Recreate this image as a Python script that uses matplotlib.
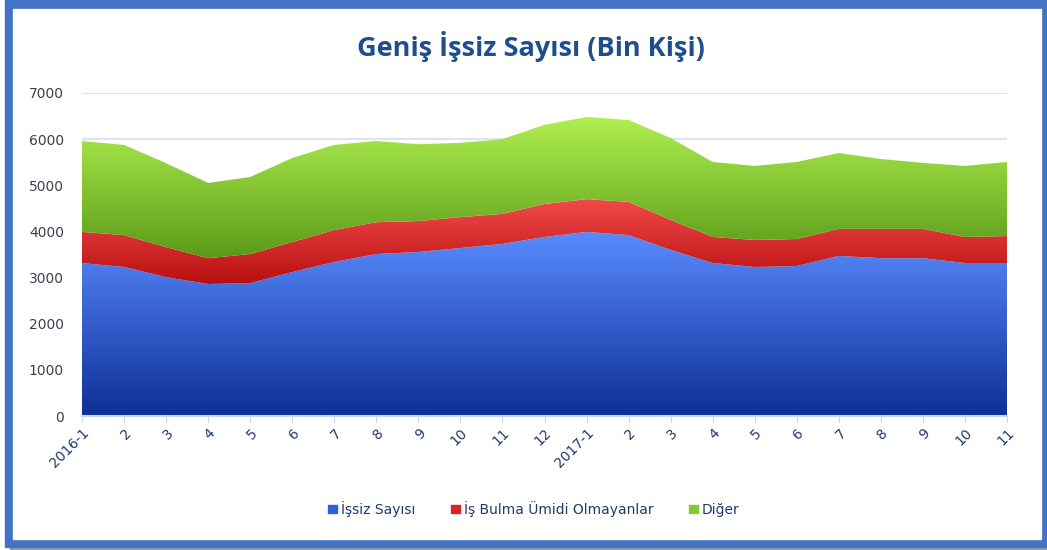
import matplotlib
matplotlib.use('Agg')
import matplotlib.pyplot as plt
import numpy as np
from matplotlib.patches import Rectangle, Patch
from matplotlib.colors import LinearSegmentedColormap

# tick labels (months)
months = ['2016-1', '2', '3', '4', '5', '6', '7', '8', '9', '10', '11', '12',
          '2017-1', '2', '3', '4', '5', '6', '7', '8', '9', '10', '11']

# thousand persons
issiz = [3315, 3230, 3010, 2860, 2880, 3120, 3340, 3510, 3555, 3640, 3730, 3880,
         3990, 3920, 3600, 3315, 3230, 3250, 3470, 3420, 3420, 3315, 3315]
umitsiz = [675, 690, 650, 560, 630, 650, 690, 690, 670, 670, 650, 715,
           710, 720, 650, 565, 585, 585, 585, 635, 635, 565, 585]
diger = [1970, 1955, 1820, 1630, 1670, 1820, 1845, 1760, 1665, 1610, 1620, 1715,
         1780, 1775, 1775, 1625, 1605, 1670, 1645, 1515, 1430, 1540, 1605]

names = ['İşsiz Sayısı', 'İş Bulma Ümidi Olmayanlar', 'Diğer']

fig = plt.figure(figsize=(10.47, 5.5), dpi=100)

# blue frame around the chart, with a thin shadow
fig.add_artist(Rectangle((10 / 1047, 0), 1, 4 / 550, transform=fig.transFigure,
                         color='#9a9a9a', zorder=-3))
fig.add_artist(Rectangle((5 / 1047, 3 / 550), 1, 1, transform=fig.transFigure,
                         color='#4472C4', zorder=-2))
fig.add_artist(Rectangle((13 / 1047, 11 / 550), 1028 / 1047, 530 / 550,
                         transform=fig.transFigure, color='white', zorder=-1))

ax = fig.add_axes([82 / 1047, 1 - 416 / 550, 925 / 1047, 323 / 550])
x = np.arange(len(months))
s1 = np.array(issiz)
s2 = s1 + np.array(umitsiz)
s3 = s2 + np.array(diger)

ymax = 7000
grads = [('#0e2f96', '#5a8cff', 0, s1),
         ('#b81010', '#f24a4a', s1, s2),
         ('#5a9a18', '#b0f050', s2, s3)]
for c_bot, c_top, lo, hi in grads:
    poly = ax.fill_between(x, lo, hi, color='none', lw=0)
    cmap = LinearSegmentedColormap.from_list('g', [c_bot, c_top])
    top = np.max(hi)
    bot = 0 if np.isscalar(lo) else np.min(lo)
    grad = np.linspace(0, 1, 256).reshape(-1, 1)
    im = ax.imshow(grad, cmap=cmap, aspect='auto', origin='lower',
                   extent=[0, len(x) - 1, bot, top], zorder=2)
    path = poly.get_paths()[0]
    im.set_clip_path(path, transform=ax.transData)

ax.set_xlim(0, len(x) - 1)
ax.set_ylim(0, ymax)
ax.set_yticks(range(0, 7001, 1000))
ax.grid(axis='y', color='#d5dff0', lw=1.2, zorder=0)
ax.set_axisbelow(True)
for s in ['top', 'right', 'left']:
    ax.spines[s].set_visible(False)
ax.spines['bottom'].set_color('#c8d4ea')
ax.spines['bottom'].set_linewidth(1.5)
ax.spines['bottom'].set_zorder(5)

ax.set_xticks(x)
ax.set_xticklabels(months, rotation=45, ha='right', rotation_mode='anchor',
                   fontsize=10, color='#1f3a70')
ax.tick_params(axis='x', length=4, color='#c8d4ea', pad=3)
ax.tick_params(axis='y', length=0, pad=13, labelsize=10, labelcolor='#3a4050')

fig.text(0.507, 0.915, 'Geniş İşsiz Sayısı (Bin Kişi)', ha='center', va='center',
         fontsize=19.5, fontweight='bold', color='#1f4e8c', family='Open Sans')

handles = [Patch(color='#2f5fd8'), Patch(color='#d82626'), Patch(color='#86c83a')]
fig.legend(handles, names, loc='center', bbox_to_anchor=(0.51, 1 - 509 / 550),
           ncol=3, frameon=False, fontsize=10, handlelength=0.6, handleheight=0.6,
           handletextpad=0.3, columnspacing=2.6, labelcolor='#1f3a70')

fig.savefig('out.png', dpi=100)
